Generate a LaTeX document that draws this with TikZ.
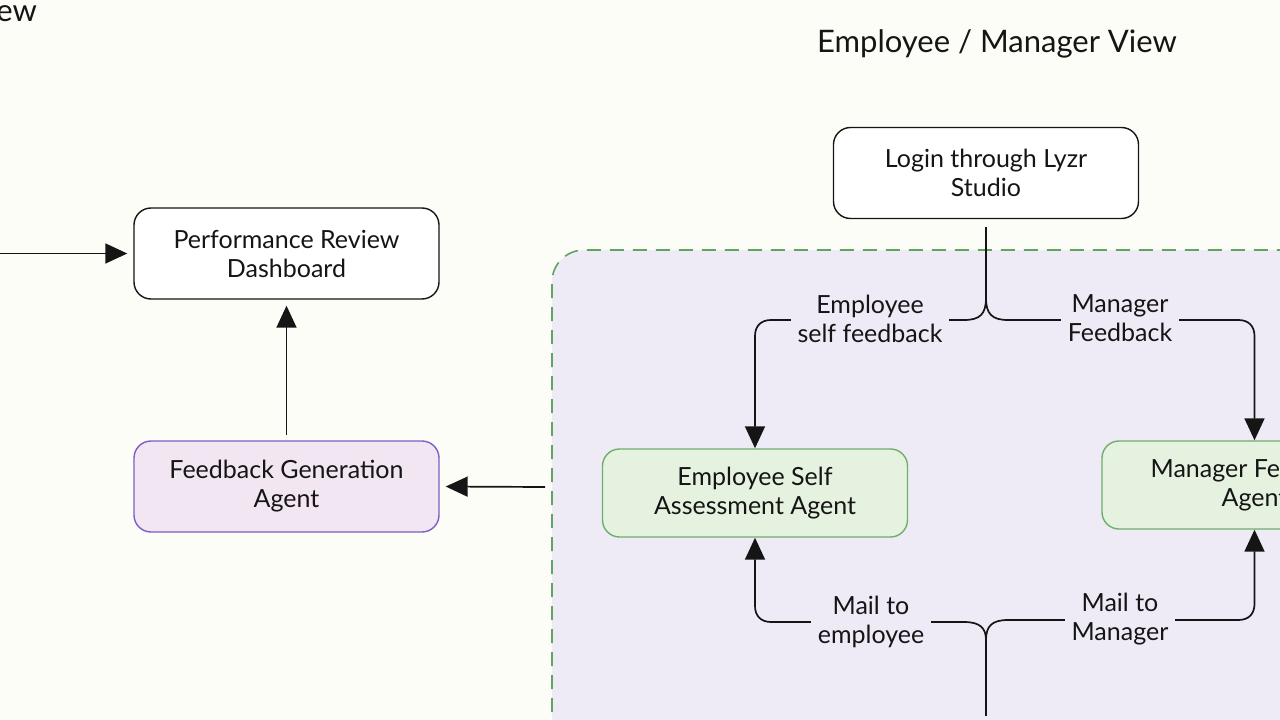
\documentclass[tikz,border=0pt]{standalone}
\usepackage{fontspec}
\setmainfont{Lato}
\usetikzlibrary{arrows.meta}
\definecolor{bg}{HTML}{FDFDF8}
\definecolor{lav}{HTML}{EEEBF7}
\definecolor{dgreen}{HTML}{5FA55F}
\definecolor{agfill}{HTML}{E4F2DF}
\definecolor{agline}{HTML}{6FAF6A}
\definecolor{pfill}{HTML}{F2E6F2}
\definecolor{pline}{HTML}{7A5FC8}
\definecolor{ink}{HTML}{151515}
\begin{document}
\begin{tikzpicture}[x=1pt,y=-1pt,
  box/.style={draw=ink, line width=1.4pt, rounded corners=17pt, minimum width=305pt,
    minimum height=91pt, align=center, font=\fontsize{25}{29}\selectfont, text=ink, fill=white},
  agent/.style={box, fill=agfill, draw=agline, minimum height=88pt},
  conn/.style={draw=ink, line width=1.7pt},
  arr/.style={conn, -{Triangle[length=22pt,width=20pt]}},
  lbl/.style={fill=lav, align=center, text=ink, inner xsep=7pt, inner ysep=2pt,
    font=\fontsize{25}{29}\selectfont},
  title/.style={text=ink, inner sep=0pt, font=\fontsize{31}{34}\selectfont}
]
\fill[bg] (0,0) rectangle (1280,720);
\useasboundingbox (0,0) rectangle (1280,720);

% container
\path[fill=lav, draw=dgreen, line width=1.6pt, dash pattern=on 14pt off 9pt, rounded corners=32pt]
  (552,790) -- (552,250) -- (1340,250) -- (1340,790) -- cycle;

% titles
\node[title, anchor=base east] (lefttitle) at (37,21) {HR View};
\node[title, anchor=base] (righttitle) at (997,52) {Employee / Manager View};

% nodes
\node[box] (login) at (986,173) {Login through Lyzr\\Studio};
\node[box] (dash) at (286.5,253.5) {Performance Review\\Dashboard};
\node[box, fill=pfill, draw=pline] (fga) at (286.5,486.5) {Feedback Generation\\Agent};
\node[agent] (esa) at (755,493) {Employee Self\\Assessment Agent};
\node[agent] (mfa) at (1254.5,485) {Manager Feedback\\Agent};

% coordinates
\coordinate (leftin) at (0,253.5);
\coordinate (cin) at (545,487);
\coordinate (j1) at (986,298);
\coordinate (j2) at (986,640);
\coordinate (bot) at (986,716);

% left side arrows
\draw[arr, shorten >=6pt] (leftin) -- (dash.west);
\draw[arr, shorten <=5pt, shorten >=6pt] (fga.north) -- (dash.south);
\draw[arr, shorten >=6pt] (cin) -- (fga.east);

% top branches
\draw[conn, shorten <=8pt] (login.south) -- (j1);
\draw[arr] (j1) .. controls (986,314) and (980,320) .. (964,320) -- (771,320)
  .. controls (761,320) and (755,326) .. (755,336) -- (esa.north);
\draw[arr] (j1) .. controls (986,314) and (992,320) .. (1008,320) -- (1238.5,320)
  .. controls (1248.5,320) and (1254.5,326) .. (1254.5,336) -- (mfa.north);
\node[lbl] (l1) at (870,319) {Employee\\self feedback};
\node[lbl] (l2) at (1120,318) {Manager\\Feedback};

% bottom branches
\draw[conn] (bot) -- (j2);
\draw[arr] (j2) .. controls (986,628) and (980,622) .. (964,622) -- (771,622)
  .. controls (761,622) and (755,616) .. (755,606) -- (esa.south);
\draw[arr] (j2) .. controls (986,626) and (992,620) .. (1008,620) -- (1238.5,620)
  .. controls (1248.5,620) and (1254.5,614) .. (1254.5,604) -- (mfa.south);
\node[lbl] (l3) at (871,622) {Mail to\\employee};
\node[lbl] (l4) at (1120,619) {Mail to\\Manager};
\end{tikzpicture}
\end{document}
